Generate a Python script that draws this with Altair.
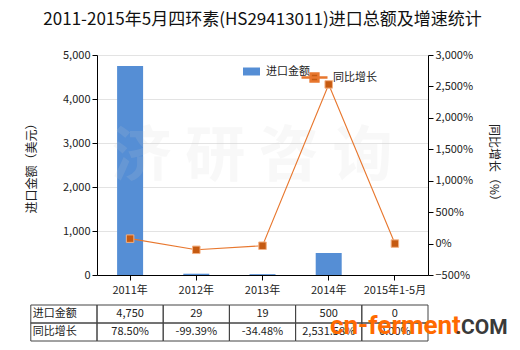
import altair as alt
import pandas as pd

# ---- data ----
categories = ["2011年", "2012年", "2013年", "2014年", "2015年1-5月"]
amounts = [4750, 29, 19, 500, 0]
growth = [78.50, -99.39, -34.48, 2531.58, 0.00]
amount_ticks = [0, 1000, 2000, 3000, 4000, 5000]
growth_ticks = [-500, 0, 500, 1000, 1500, 2000, 2500, 3000]
row_labels = ["进口金额", "同比增长"]
label_col = "项目"
title_text = "2011-2015年5月四环素(HS29413011)进口总额及增速统计"

FONT = "Noto Sans CJK SC"
W, H = 331, 220
BLUE = "#558ed5"
ORANGE = "#e8772e"
DARK_ORANGE = "#c55a11"

df = pd.DataFrame({
    "cat": categories,
    "amount": amounts,
    "growth": growth,
    "s1": row_labels[0],
    "s2": row_labels[1],
})

cells = []
for c, a, g in zip(categories, amounts, growth):
    cells.append({"col": c, "row": row_labels[0], "txt": f"{a:,}"})
    cells.append({"col": c, "row": row_labels[1], "txt": f"{g:,.2f}%"})
for r in row_labels:
    cells.append({"col": label_col, "row": r, "txt": r})
tdf = pd.DataFrame(cells)

x_band = alt.Scale(type="band", domain=categories, paddingInner=0, paddingOuter=0)
x_point = alt.Scale(type="point", domain=categories, padding=0.5)
y_amt = alt.Scale(domain=[0, 5000], nice=False)
y_gr = alt.Scale(domain=[-500, 3000], nice=False)
tx = alt.Scale(type="band", domain=[label_col] + categories, range=[-W / 5, W],
               paddingInner=0, paddingOuter=0)
ty = alt.Scale(type="band", domain=row_labels, range=[250, 286],
               paddingInner=0, paddingOuter=0)

base = alt.Chart(df)

bars = base.mark_bar(size=26).encode(
    x=alt.X("cat:N", scale=x_band, sort=categories,
            axis=alt.Axis(title=None, labelAngle=0, tickSize=5, labelPadding=4,
                          domainColor="black", tickColor="black", grid=False,
                          labelFont=FONT, labelFontSize=11, labelColor="#222")),
    y=alt.Y("amount:Q", scale=y_amt,
            axis=alt.Axis(values=amount_ticks, format=",.0f", orient="left",
                          title="进口金额（美元）", titleFont=FONT, titleFontSize=12,
                          titleFontWeight="normal", titleColor="#222", titlePadding=24,
                          labelFont=FONT, labelFontSize=11, labelColor="#222",
                          tickSize=5, domainColor="black", tickColor="black",
                          grid=True, gridColor="#e3e3e3")),
    fill=alt.Fill("s1:N", scale=alt.Scale(domain=[row_labels[0]], range=[BLUE]),
                  legend=alt.Legend(title=None, orient="none", legendX=146, legendY=8,
                                    direction="horizontal",
                                    symbolType="M-1,-0.47H1V0.47H-1Z", symbolSize=289,
                                    symbolStrokeWidth=0, labelFont=FONT,
                                    labelFontSize=11, labelColor="#222", labelOffset=6)),
)

watermark = alt.Chart(pd.DataFrame({"w": ["济  研  咨  询"]})).mark_text(
    font=FONT, fontSize=60, fontWeight="bold", color="#d0d0d0", opacity=0.14,
    align="center", baseline="middle"
).encode(text="w:N", x=alt.value(155), y=alt.value(103))

line = base.mark_line(strokeWidth=1.1).encode(
    x=alt.X("cat:N", scale=x_point, sort=categories, axis=None),
    y=alt.Y("growth:Q", scale=y_gr,
            axis=alt.Axis(values=growth_ticks, orient="right",
                          labelExpr="format(datum.value, ',') + '%'",
                          title="同比增长（%）", titleFont=FONT, titleFontSize=12,
                          titleFontWeight="normal", titleColor="#222", titlePadding=14,
                          labelFont=FONT, labelFontSize=11, labelColor="#222",
                          tickSize=5, domainColor="black", tickColor="black",
                          grid=False)),
    stroke=alt.Stroke("s2:N", scale=alt.Scale(domain=[row_labels[1]], range=[ORANGE]),
                      legend=alt.Legend(title=None, orient="none", legendX=203, legendY=8,
                                        direction="horizontal",
                                        symbolType="M-1,0H1M-0.3,-0.3H0.3V0.3H-0.3Z",
                                        symbolSize=676, symbolStrokeWidth=2.5,
                                        symbolFillColor=DARK_ORANGE,
                                        labelFont=FONT, labelFontSize=11,
                                        labelColor="#222", labelOffset=4)),
)

points = base.mark_square(size=56, color=DARK_ORANGE, stroke="#f4b183",
                          strokeWidth=1, opacity=1, filled=True).encode(
    x=alt.X("cat:N", scale=x_point, sort=categories, axis=None),
    y=alt.Y("growth:Q", scale=y_gr, axis=None),
)

tbase = alt.Chart(tdf)
cells_rect = tbase.mark_rect(fill="white", fillOpacity=0, stroke="#444", strokeWidth=1).encode(
    x=alt.X("col:N", scale=tx, axis=None),
    y=alt.Y("row:N", scale=ty, axis=None),
)
cells_text = tbase.transform_filter(alt.datum.col != label_col).mark_text(
    font=FONT, fontSize=11, color="#222", baseline="middle", align="center"
).encode(
    x=alt.X("col:N", scale=tx, axis=None),
    y=alt.Y("row:N", scale=ty, axis=None),
    text="txt:N",
)
label_text = tbase.transform_filter(alt.datum.col == label_col).mark_text(
    font=FONT, fontSize=11, color="#222", baseline="middle", align="left", dx=2
).encode(
    x=alt.X("col:N", scale=tx, axis=None, bandPosition=0),
    y=alt.Y("row:N", scale=ty, axis=None),
    text="txt:N",
)

logo1 = alt.Chart(pd.DataFrame({"t": ["cn-ferment"]})).mark_text(
    font="Roboto", fontSize=26, fontWeight="bold", color="#ff6a00",
    align="left", baseline="alphabetic"
).encode(text="t:N", x=alt.value(233), y=alt.value(279))
logo2 = alt.Chart(pd.DataFrame({"t": [".COM"]})).mark_text(
    font="Roboto", fontSize=21, fontWeight="bold", color="#3a3a3a",
    align="left", baseline="alphabetic"
).encode(text="t:N", x=alt.value(358), y=alt.value(279))

chart = alt.layer(
    bars, watermark, line, points, cells_rect, cells_text, label_text, logo1, logo2
).resolve_scale(
    x="independent", y="independent"
).properties(
    width=W, height=H,
    autosize="none",
    padding={"left": 97, "top": 55, "right": 92, "bottom": 75},
    title=alt.Title(title_text, font=FONT, fontSize=17, fontWeight="normal",
                    color="#111", anchor="middle", frame="group", offset=20),
).configure_view(stroke=None)

chart.save("out.html", embed_options={"renderer": "svg", "actions": False})
